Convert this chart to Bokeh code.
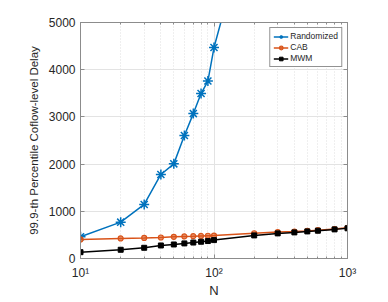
from bokeh.plotting import figure
from bokeh.models import (Range1d, LinearAxis, LogAxis, FixedTicker,
                          Legend, LegendItem, CustomJSTickFormatter)
from bokeh.embed import file_html
from bokeh.resources import INLINE

n_vals = [10, 20, 30, 40, 50, 60, 70, 80, 90, 100, 200, 300, 400, 500, 600, 800, 1000]
randomized = [460, 770, 1145, 1780, 2005, 2605, 3070, 3495, 3760, 4470, 7600]
n_rand = n_vals[:len(randomized)]
cab = [405, 425, 435, 445, 460, 468, 473, 478, 482, 485, 535, 560, 570, 585, 600, 625, 650]
mwm = [134, 185, 227, 276, 297, 320, 338, 355, 370, 390, 489, 532, 553, 574, 589, 617, 640]
y_ticks = [0, 1000, 2000, 3000, 4000, 5000]
x_ticks = [10, 100, 1000]
x_minor = [20, 30, 40, 50, 60, 70, 80, 90, 200, 300, 400, 500, 600, 700, 800, 900]
x_tick_labels = {10: "10\u00b9", 100: "10\u00b2", 1000: "10\u00b3"}

FONT = "Liberation Sans"
TXT = "#262626"
AX = "#8c8c8c"

W, H = 380, 300
p = figure(width=W, height=H, x_axis_type="log", output_backend="svg",
           toolbar_location=None, x_range=Range1d(10, 1000), y_range=Range1d(0, 5000),
           min_border_left=80, min_border_right=W - 347, min_border_top=22,
           min_border_bottom=H - 258)
p.outline_line_color = AX
p.outline_line_width = 1

xt = FixedTicker(ticks=x_ticks, minor_ticks=x_minor)
yt = FixedTicker(ticks=y_ticks)
p.xaxis.ticker = xt
p.xaxis.major_label_overrides = x_tick_labels
p.yaxis.ticker = yt
p.xgrid.ticker = xt
p.ygrid.ticker = yt

for ax in (p.xaxis[0], p.yaxis[0]):
    ax.axis_line_color = AX
    ax.major_tick_line_color = AX
    ax.minor_tick_line_color = AX
    ax.major_tick_in = 4
    ax.major_tick_out = 0
    ax.minor_tick_in = 2
    ax.minor_tick_out = 0
    ax.major_label_text_font = FONT
    ax.major_label_text_font_size = "12px"
    ax.major_label_text_color = TXT
    ax.axis_label_text_font = FONT
    ax.axis_label_text_font_style = "normal"
    ax.axis_label_text_color = TXT
p.yaxis.minor_tick_line_color = None
p.xaxis.axis_label = "N"
p.xaxis.axis_label_text_font_size = "13px"
p.xaxis.major_label_standoff = 7
p.xaxis.axis_label_standoff = 0
p.yaxis.axis_label = "99.9-th Percentile Coflow-level Delay"
p.yaxis.axis_label_text_font_size = "11.5px"
p.yaxis.major_label_standoff = 5
p.yaxis.axis_label_standoff = 6

blank = CustomJSTickFormatter(code="return ''")
right = LinearAxis(ticker=yt, formatter=blank,
                   axis_line_color=AX, major_tick_line_color=AX, major_tick_in=4,
                   major_tick_out=0, minor_tick_line_color=None, major_label_standoff=0)
p.add_layout(right, "right")
top = LogAxis(ticker=xt, formatter=blank, axis_line_color=AX,
              major_tick_line_color=AX, minor_tick_line_color=AX, major_tick_in=4,
              major_tick_out=0, minor_tick_in=2, minor_tick_out=0, major_label_standoff=0)
p.add_layout(top, "above")

p.xgrid.grid_line_color = "#e3e3e3"
p.xgrid.minor_grid_line_color = "#dedede"
p.xgrid.minor_grid_line_dash = "1 2"
p.ygrid.grid_line_color = "#e3e3e3"

BLUE = "#0072BD"
ORANGE = "#D95319"
BLACK = "#000000"

r1l = p.line(n_rand, randomized, line_color=BLUE, line_width=1.5)
r1m = p.scatter(n_rand, randomized, marker="asterisk", size=10, line_color=BLUE, line_width=1.5)
r2l = p.line(n_vals, cab, line_color=ORANGE, line_width=1.5)
r2m = p.scatter(n_vals, cab, marker="circle", size=5, line_color=ORANGE, fill_color=ORANGE,
                fill_alpha=0.6, line_width=1.2)
r3l = p.line(n_vals, mwm, line_color=BLACK, line_width=1.5)
r3m = p.scatter(n_vals, mwm, marker="square", size=5, line_color=BLACK, fill_color=BLACK,
                line_width=1)

legend = Legend(items=[
    LegendItem(label="Randomized", renderers=[r1l, r1m]),
    LegendItem(label="CAB", renderers=[r2l, r2m]),
    LegendItem(label="MWM", renderers=[r3l, r3m]),
], location="top_right")
legend.label_text_font = FONT
legend.label_text_font_size = "8.5px"
legend.label_text_color = TXT
legend.label_height = 9
legend.glyph_height = 9
legend.glyph_width = 15
legend.label_standoff = 2
legend.spacing = 1
legend.padding = 3
legend.margin = 5
legend.border_line_color = "#262626"
legend.border_line_width = 1
legend.background_fill_alpha = 1
p.add_layout(legend)

open("out.html", "w").write(file_html(p, INLINE))
